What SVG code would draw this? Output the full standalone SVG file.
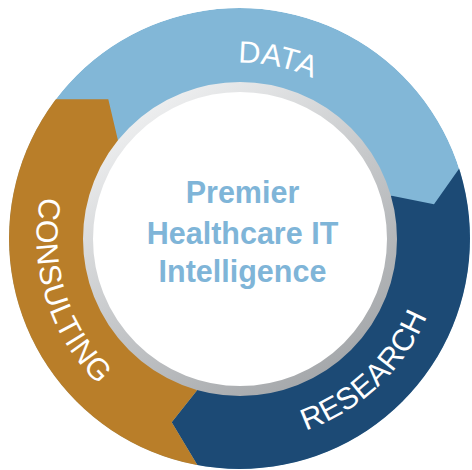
<svg xmlns="http://www.w3.org/2000/svg" width="472" height="470" viewBox="0 0 472 470">
  <defs>
    <clipPath id="ring-clip">
      <circle cx="239.5" cy="238.5" r="230.5"/>
    </clipPath>
    <linearGradient id="bezel" x1="0.2" y1="0.05" x2="0.8" y2="0.95">
      <stop offset="0" stop-color="#eeeff0"/>
      <stop offset="0.5" stop-color="#c6c8ca"/>
      <stop offset="1" stop-color="#a4a7aa"/>
    </linearGradient>
    <path id="arc-data" d="M237.96,62.5 A176,176 0 0 1 415.5,238.5"/>
    <path id="arc-consulting" d="M40.8,197 A203,203 0 0 0 204.3,438.4"/>
    <path id="arc-research" d="M305.6,430.4 A203,203 0 0 0 439.4,203.3"/>
    <style>
      .seg-label { font-family: "Liberation Sans", Arial, sans-serif; font-size: 30.5px; fill: #ffffff; }
      .hub-label { font-family: "Liberation Sans", Arial, sans-serif; font-size: 30.5px; font-weight: bold; fill: #7fb5d8; text-anchor: middle; }
    </style>
  </defs>

  <!-- outer cycle ring, three arrow segments -->
  <g clip-path="url(#ring-clip)">
    <g id="data">
      <circle cx="239.5" cy="238.5" r="230.5" fill="#82b7d7"/>
    </g>
    <g id="research">
      <polygon fill="#1c4a75" points="480,139 434,204.3 391.7,195.7 240,239 196.7,390.7 171.7,422.3 213,491 490,491 490,139"/>
    </g>
    <g id="consulting">
      <polygon fill="#b97e29" points="-10,99.3 108.3,99.3 118.3,141.7 240,239 196.7,390.7 171.7,422.3 213,491 -10,491"/>
    </g>
  </g>

  <!-- hub -->
  <g id="hub">
    <circle cx="240" cy="239" r="152" fill="#ffffff" stroke="url(#bezel)" stroke-width="10"/>
    <text class="hub-label" x="242.5" y="203">Premier</text>
    <text class="hub-label" x="242.5" y="243.5">Healthcare IT</text>
    <text class="hub-label" x="242.5" y="282">Intelligence</text>
  </g>

  <!-- segment labels -->
  <g id="labels">
    <text class="seg-label"><textPath href="#arc-data">DATA</textPath></text>
    <text class="seg-label" letter-spacing="0.8"><textPath href="#arc-consulting">CONSULTING</textPath></text>
    <text class="seg-label" letter-spacing="0.3"><textPath href="#arc-research">RESEARCH</textPath></text>
  </g>
</svg>
